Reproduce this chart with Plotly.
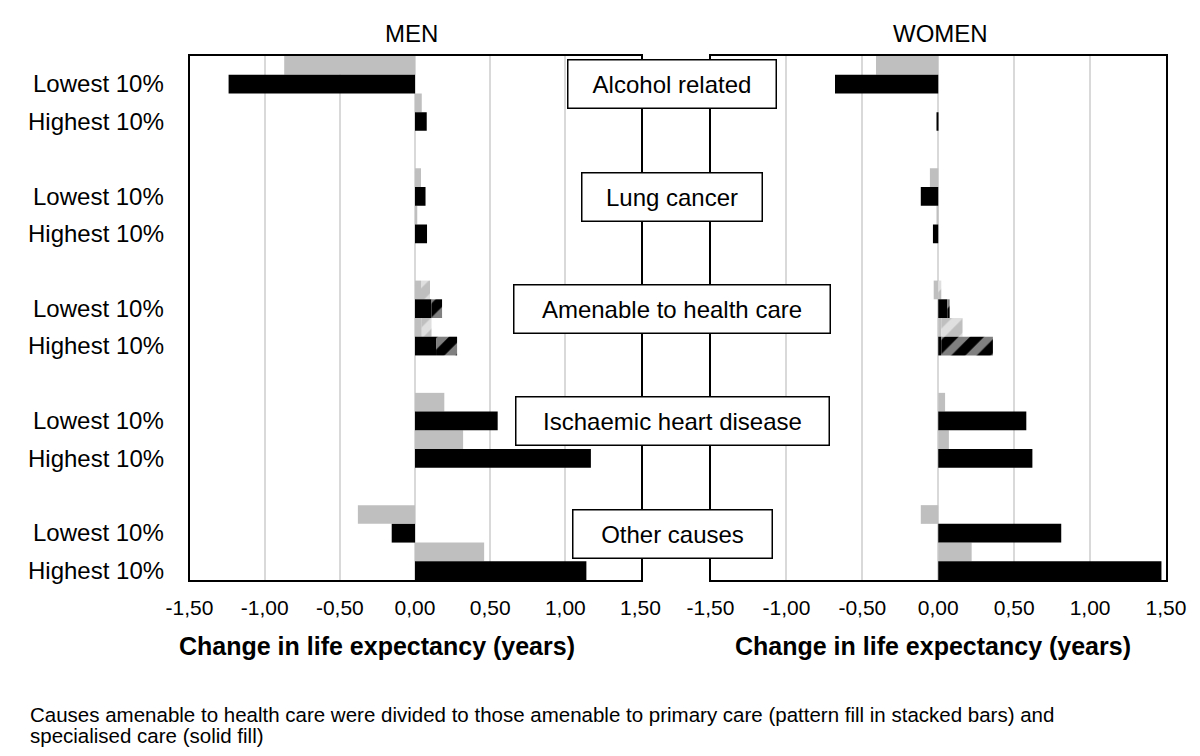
import plotly.graph_objects as go

# ---------------- data ----------------
causes = ["Alcohol related", "Lung cancer", "Amenable to health care",
          "Ischaemic heart disease", "Other causes"]
groups = ["Lowest 10%", "Highest 10%"]

# order: (cause0,Lowest),(cause0,Highest),(cause1,Lowest),...
men_grey_solid = [-0.87, 0.045, 0.04, 0.015, 0.04, 0.045, 0.195, 0.32, -0.38, 0.46]
men_grey_pattern = [0, 0, 0, 0, 0.06, 0.065, 0, 0, 0, 0]
men_black_solid = [-1.24, 0.078, 0.07, 0.08, 0.11, 0.14, 0.55, 1.17, -0.155, 1.14]
men_black_pattern = [0, 0, 0, 0, 0.07, 0.14, 0, 0, 0, 0]

women_grey_solid = [-0.41, 0.0, -0.055, -0.005, -0.03, 0.02, 0.045, 0.07, -0.115, 0.22]
women_grey_pattern = [0, 0, 0, 0, 0.02, 0.14, 0, 0, 0, 0]
women_black_solid = [-0.68, -0.01, -0.115, -0.035, 0.06, 0.02, 0.58, 0.62, 0.81, 1.47]
women_black_pattern = [0, 0, 0, 0, 0.015, 0.34, 0, 0, 0, 0]

tick_vals = [-1.5, -1.0, -0.5, 0.0, 0.5, 1.0, 1.5]
tick_labels = ["-1,50", "-1,00", "-0,50", "0,00", "0,50", "1,00", "1,50"]
panel_titles = ["MEN", "WOMEN"]
axis_title = "Change in life expectancy (years)"
footnote_lines = [
    "Causes amenable to health care were divided to those amenable to primary care "
    "(pattern fill in stacked bars) and",
    "specialised care (solid fill)",
]

# ---------------- styling ----------------
FONT = "Liberation Sans, Arial, sans-serif"
GREY = "#bfbfbf"
BLACK = "#000000"
box_widths = [207, 179, 315, 312, 198]

# slot positions: each cause has 2 rows followed by an empty slot
positions = []
for g in range(len(causes)):
    for s in range(len(groups)):
        positions.append(3 * g + s)
grey_y = [p - 0.25 for p in positions]
black_y = [p + 0.25 for p in positions]

fig = go.Figure()

panels = [
    ("x", "y", men_grey_solid, men_grey_pattern, men_black_solid, men_black_pattern),
    ("x2", "y2", women_grey_solid, women_grey_pattern, women_black_solid, women_black_pattern),
]

for xa, ya, gs, gp, bs, bp in panels:
    fig.add_trace(go.Bar(x=gs, y=grey_y, orientation="h", width=0.5, xaxis=xa, yaxis=ya,
                         marker=dict(color=GREY, line=dict(width=0)), showlegend=False,
                         hoverinfo="x"))
    fig.add_trace(go.Bar(x=gp, y=grey_y, orientation="h", width=0.5, xaxis=xa, yaxis=ya,
                         marker=dict(color=GREY, line=dict(width=0),
                                     pattern=dict(shape="/", bgcolor=GREY, fgcolor="white",
                                                  size=18, solidity=0.45)),
                         showlegend=False, hoverinfo="x"))
    fig.add_trace(go.Bar(x=bs, y=black_y, orientation="h", width=0.5, xaxis=xa, yaxis=ya,
                         marker=dict(color=BLACK, line=dict(width=0)), showlegend=False,
                         hoverinfo="x"))
    fig.add_trace(go.Bar(x=bp, y=black_y, orientation="h", width=0.5, xaxis=xa, yaxis=ya,
                         marker=dict(color=BLACK, line=dict(width=0),
                                     pattern=dict(shape="/", bgcolor=BLACK, fgcolor="white",
                                                  size=18, solidity=0.45)),
                         showlegend=False, hoverinfo="x"))

n_slots = 3 * len(causes) - 1
xcommon = dict(range=[-1.5, 1.5], tickvals=tick_vals, ticktext=tick_labels,
               showgrid=True, gridcolor="#d9d9d9", gridwidth=2, zeroline=False,
               showline=True, linecolor="black", linewidth=1.5, mirror=True,
               ticks="", ticklabelstandoff=8, automargin=False,
               tickfont=dict(family=FONT, size=21, color="black"), fixedrange=True)
ycommon = dict(range=[n_slots - 0.5, -0.5], showticklabels=False, showgrid=False,
               zeroline=False, showline=True, linecolor="black", linewidth=1.5,
               mirror=True, ticks="", automargin=False, fixedrange=True)

fig.update_layout(
    width=1200, height=756,
    margin=dict(l=0, r=0, t=56, b=176, autoexpand=False),
    paper_bgcolor="white", plot_bgcolor="white",
    barmode="relative",
    font=dict(family=FONT, color="black"),
    xaxis=dict(domain=[189.5 / 1200, 640.5 / 1200], anchor="y", **xcommon),
    yaxis=dict(domain=[0, 1], anchor="x", **ycommon),
    xaxis2=dict(domain=[710.5 / 1200, 1166 / 1200], anchor="y2", **xcommon),
    yaxis2=dict(domain=[0, 1], anchor="x2", **ycommon),
)

annotations = []
# row labels
for i, p in enumerate(positions):
    annotations.append(dict(text=groups[i % 2], xref="paper", yref="y", x=166 / 1200, y=p,
                            xanchor="right", yanchor="middle", yshift=-9, showarrow=False,
                            font=dict(family=FONT, size=24, color="black")))
# cause boxes
for g, c in enumerate(causes):
    annotations.append(dict(text=c, xref="paper", yref="y", x=672 / 1200, y=3 * g + 0.5,
                            xanchor="center", yanchor="middle", yshift=9, showarrow=False,
                            bgcolor="white", bordercolor="black", borderwidth=1.5,
                            borderpad=0, width=box_widths[g], height=47,
                            font=dict(family=FONT, size=24, color="black")))
# panel titles
for xc, t in zip([411, 940], panel_titles):
    annotations.append(dict(text=t, xref="paper", yref="paper", x=xc / 1200, y=1,
                            xanchor="center", yanchor="middle", yshift=23, showarrow=False,
                            font=dict(family=FONT, size=24, color="black")))
# axis titles
for xc in [377, 933]:
    annotations.append(dict(text="<b>" + axis_title + "</b>", xref="paper", yref="paper",
                            x=xc / 1200, y=0, xanchor="center", yanchor="middle",
                            yshift=-66, showarrow=False,
                            font=dict(family=FONT, size=25, color="black")))
# footnote (two lines)
for k, line in enumerate(footnote_lines):
    annotations.append(dict(text=line, xref="paper", yref="paper", x=28 / 1200, y=0,
                            xanchor="left", yanchor="middle", yshift=-(134 + 21 * k),
                            align="left", showarrow=False,
                            font=dict(family=FONT, size=20.5, color="black")))

fig.update_layout(annotations=annotations)

fig.write_html("out.html", config={"displayModeBar": False},
               post_script="document.body.style.margin='0';")
